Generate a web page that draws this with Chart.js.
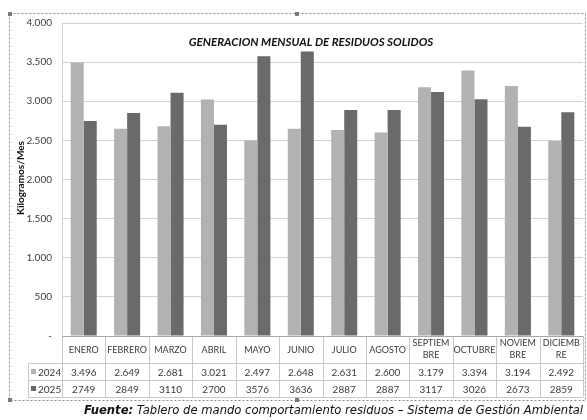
<!DOCTYPE html>
<html>
<head>
<meta charset="utf-8">
<script src="https://cdn.jsdelivr.net/npm/chart.js@4"></script>
<style>
  html, body { margin: 0; padding: 0; background: #fff; }
  canvas { display: block; }
</style>
</head>
<body>
<canvas id="residuos" width="587" height="420"></canvas>
<script>
// data
const months = ['ENERO', 'FEBRERO', 'MARZO', 'ABRIL', 'MAYO', 'JUNIO', 'JULIO', 'AGOSTO', 'SEPTIEMBRE', 'OCTUBRE', 'NOVIEMBRE', 'DICIEMBRE'];
const monthLines = [['ENERO'], ['FEBRERO'], ['MARZO'], ['ABRIL'], ['MAYO'], ['JUNIO'], ['JULIO'], ['AGOSTO'], ['SEPTIEM', 'BRE'], ['OCTUBRE'], ['NOVIEM', 'BRE'], ['DICIEMB', 'RE']];
const values2024 = [3496, 2649, 2681, 3021, 2497, 2648, 2631, 2600, 3179, 3394, 3194, 2492];
const values2025 = [2749, 2849, 3110, 2700, 3576, 3636, 2887, 2887, 3117, 3026, 2673, 2859];
const yTicks = [0, 500, 1000, 1500, 2000, 2500, 3000, 3500, 4000];

const FONT = 'Lato, "Open Sans", sans-serif';
const light = '#b2b2b2';
const dark = '#6a6a6a';

function dots(v) {
  return String(v).replace(/\B(?=(\d{3})+(?!\d))/g, '.');
}

// table under the plot, legend keys, titles, frame
const extras = {
  id: 'extras',
  afterDraw(chart) {
    const ctx = chart.ctx;
    const area = chart.chartArea;
    const xs = chart.scales.x;
    const step = (area.right - area.left) / months.length;
    const rowTop = area.bottom, row1 = 363, row2 = 380, rowEnd = 397;
    ctx.save();

    // table lines
    ctx.strokeStyle = '#c8c8c8';
    ctx.lineWidth = 1;
    ctx.beginPath();
    for (let i = 0; i <= months.length; i++) {
      const px = Math.round(area.left + i * step) + 0.5;
      ctx.moveTo(px, rowTop);
      ctx.lineTo(px, rowEnd);
    }
    [row1, row2, rowEnd].forEach(y => {
      ctx.moveTo(28, y + 0.5);
      ctx.lineTo(area.right, y + 0.5);
    });
    ctx.moveTo(28.5, row1);
    ctx.lineTo(28.5, rowEnd);
    ctx.stroke();

    // axis line
    ctx.strokeStyle = '#a8a8a8';
    ctx.beginPath();
    ctx.moveTo(area.left, rowTop + 0.5);
    ctx.lineTo(area.right, rowTop + 0.5);
    ctx.stroke();

    // category labels and values
    ctx.fillStyle = '#3a3a3a';
    ctx.textAlign = 'center';
    ctx.textBaseline = 'middle';
    monthLines.forEach((lines, i) => {
      const cx = xs.getPixelForValue(i);
      ctx.font = '9px ' + FONT;
      if (lines.length === 1) {
        ctx.fillText(lines[0], cx, 350);
      } else {
        ctx.fillText(lines[0], cx, 343);
        ctx.fillText(lines[1], cx, 355);
      }
      ctx.font = '10px ' + FONT;
      ctx.fillText(dots(values2024[i]), cx, (row1 + row2) / 2 + 1);
      ctx.fillText(String(values2025[i]), cx, (row2 + rowEnd) / 2 + 1);
    });

    // legend keys in the table
    ctx.textAlign = 'left';
    ctx.font = '10px ' + FONT;
    ctx.fillStyle = light;
    ctx.fillRect(31, row1 + 6, 5, 5);
    ctx.fillStyle = dark;
    ctx.fillRect(31, row2 + 6, 5, 5);
    ctx.fillStyle = '#3a3a3a';
    ctx.fillText(chart.data.datasets[0].label, 38, (row1 + row2) / 2 + 1);
    ctx.fillText(chart.data.datasets[1].label, 38, (row2 + rowEnd) / 2 + 1);

    // chart title
    ctx.textAlign = 'center';
    ctx.fillStyle = '#111';
    ctx.font = 'italic bold 11.5px ' + FONT;
    ctx.fillText('GENERACION MENSUAL DE RESIDUOS SOLIDOS', 311, 42);

    // y axis title
    ctx.save();
    ctx.translate(21, 178);
    ctx.rotate(-Math.PI / 2);
    ctx.font = 'bold 10px ' + FONT;
    ctx.fillText('Kilogramos/Mes', 0, 0);
    ctx.restore();

    // dashed selection frame with handles
    ctx.strokeStyle = '#8a8a8a';
    ctx.setLineDash([2, 2]);
    ctx.strokeRect(9.5, 13.5, 576, 387);
    ctx.setLineDash([]);
    ctx.fillStyle = '#7a7a7a';
    [[10, 14], [297, 14], [10, 400], [297, 400]].forEach(p => ctx.fillRect(p[0] - 2, p[1] - 2, 4, 4));

    // source line
    ctx.fillStyle = '#111';
    ctx.textAlign = 'left';
    const y = 411;
    const fs = '11.6px "DejaVu Sans", sans-serif';
    ctx.font = 'italic bold ' + fs;
    const lead = 'Fuente:';
    const rest = ' Tablero de mando comportamiento residuos \u2013 Sistema de Gesti\u00f3n Ambiental';
    const w1 = ctx.measureText(lead).width;
    ctx.font = 'italic ' + fs;
    const w2 = ctx.measureText(rest).width;
    const startX = 583 - (w1 + w2);
    ctx.font = 'italic bold ' + fs;
    ctx.fillText(lead, startX, y);
    ctx.font = 'italic ' + fs;
    ctx.fillText(rest, startX + w1, y);

    ctx.restore();
  }
};

new Chart(document.getElementById('residuos'), {
  type: 'bar',
  data: {
    labels: months,
    datasets: [
      { label: '2024', data: values2024, backgroundColor: light, borderWidth: 0 },
      { label: '2025', data: values2025, backgroundColor: dark, borderWidth: 0 }
    ]
  },
  options: {
    responsive: false,
    animation: false,
    devicePixelRatio: 1,
    layout: { padding: { top: 23, right: 4, left: 0, bottom: 0 } },
    datasets: { bar: { categoryPercentage: 0.6, barPercentage: 1 } },
    plugins: {
      legend: { display: false },
      tooltip: { enabled: false }
    },
    scales: {
      x: {
        ticks: { display: false },
        grid: { display: false },
        border: { display: false },
        afterFit: scale => { scale.height = 84; }
      },
      y: {
        min: 0,
        max: 4000,
        afterFit: scale => { scale.width = 62; },
        afterBuildTicks: scale => { scale.ticks = yTicks.map(v => ({ value: v })); },
        ticks: {
          font: { family: FONT, size: 10 },
          color: '#404040',
          padding: 10,
          callback: v => v === 0 ? '-' : dots(v)
        },
        grid: { color: '#d2d2d2', drawTicks: false },
        border: { color: '#d2d2d2' }
      }
    }
  },
  plugins: [extras]
});
</script>
</body>
</html>
